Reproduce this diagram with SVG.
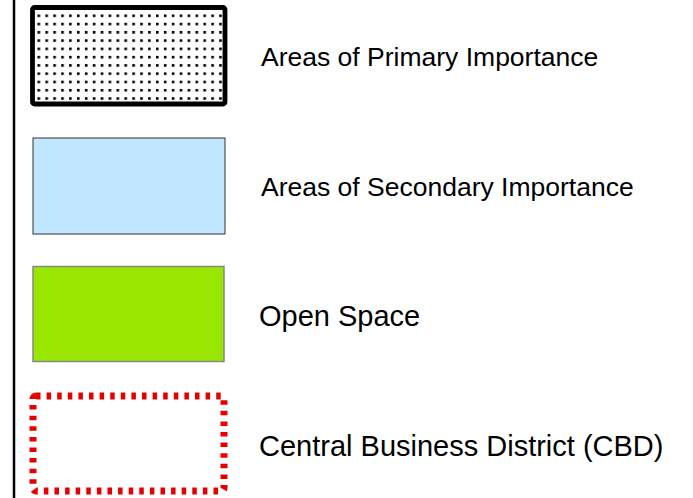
<svg xmlns="http://www.w3.org/2000/svg" width="693" height="498" viewBox="0 0 693 498">
<style>
.lbl{font-family:"Liberation Sans",Arial,sans-serif;fill:#000}
</style>
<defs>
<pattern id="dots" patternUnits="userSpaceOnUse" x="37.5" y="14.5" width="7.9" height="8.27">
<rect x="0" y="0" width="2.6" height="2.6" fill="#000"/>
</pattern>
</defs>
<rect width="693" height="498" fill="#fff"/>
<line x1="14" y1="0" x2="14" y2="498" stroke="#000" stroke-width="2.5"/>
<g id="primary">
<rect x="32.5" y="7.5" width="192.5" height="96.5" rx="2" fill="#fff"/>
<rect x="32.5" y="7.5" width="192.5" height="96.5" rx="2" fill="url(#dots)" stroke="#000" stroke-width="4.8"/>
<text class="lbl" x="261" y="66" font-size="26.5">Areas of Primary Importance</text>
</g>
<g id="secondary">
<rect x="33" y="138" width="192" height="96" fill="#C0E7FF" stroke="#333" stroke-width="1"/>
<text class="lbl" x="261" y="196" font-size="26.5">Areas of Secondary Importance</text>
</g>
<g id="open">
<rect x="33" y="266.5" width="191" height="95" fill="#99E600" stroke="#888" stroke-width="1.5"/>
<text class="lbl" x="259" y="326" font-size="29">Open Space</text>
</g>
<g id="cbd">
<rect x="33" y="396" width="191" height="95" rx="3" fill="none" stroke="#E60000" stroke-width="7" stroke-dasharray="4.5 6.1"/>
<text class="lbl" x="259" y="456" font-size="29">Central Business District (CBD)</text>
</g>
<g id="connectors"></g>
</svg>
